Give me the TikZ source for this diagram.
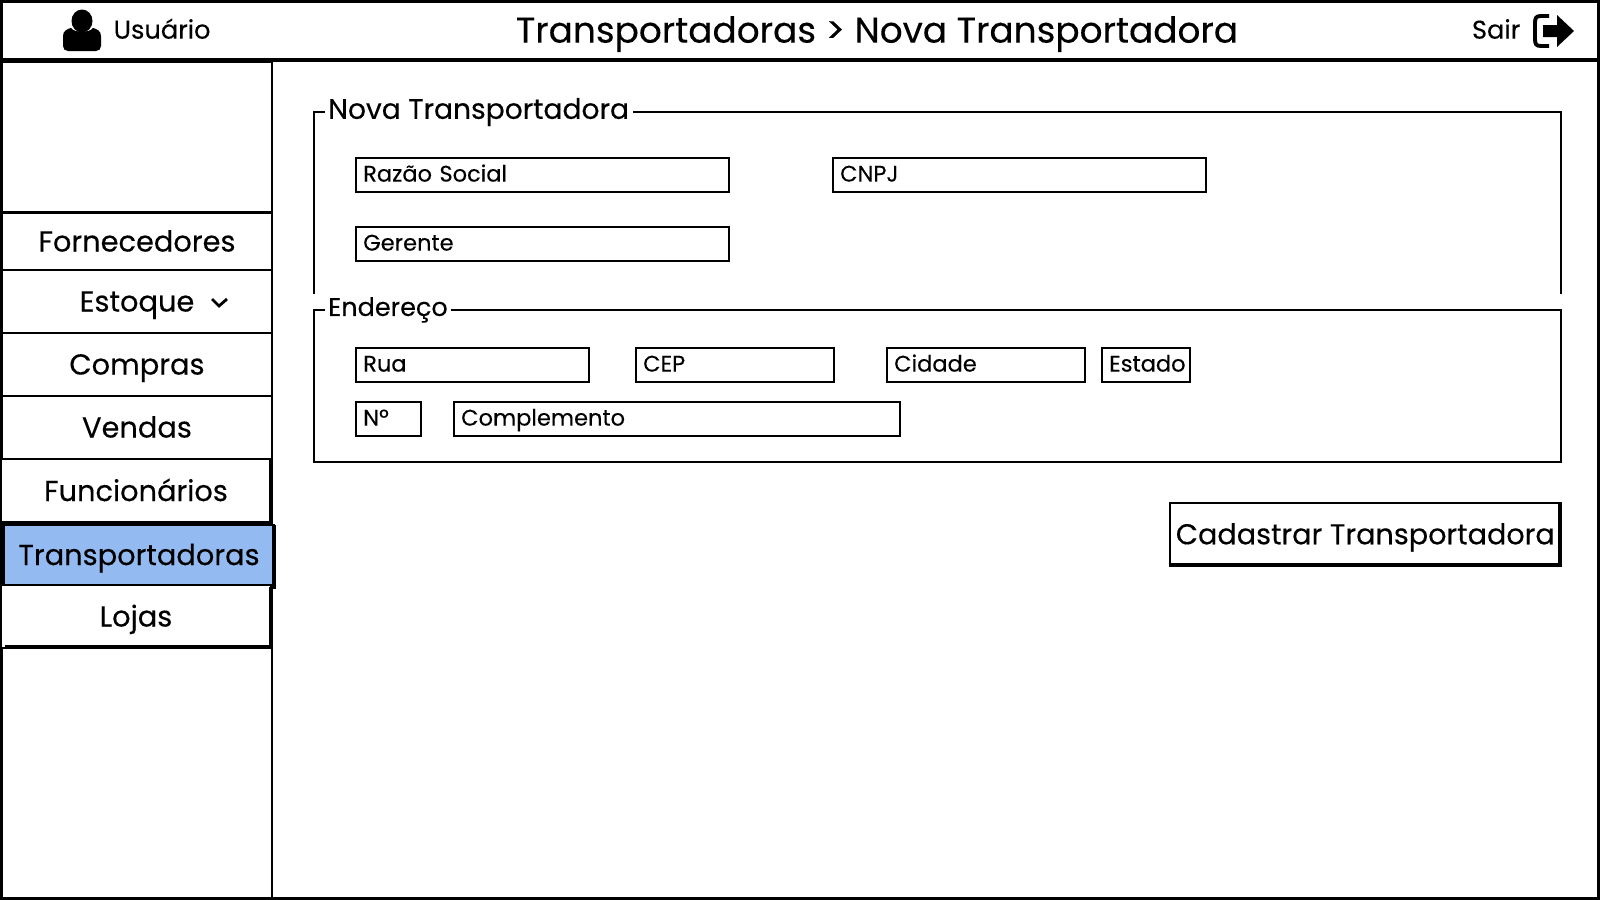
\documentclass[tikz,border=0pt]{standalone}
\usepackage{fontspec}
\setmainfont{Poppins}[FakeBold=0.25]
\usepackage{xcolor}
\usetikzlibrary{arrows.meta}
\definecolor{menublue}{HTML}{93BBF1}
\tikzset{
    wire/.style={draw=black, line width=0.7pt, fill=white},
    menuitem/.style={wire, minimum width=2.7cm, inner sep=0pt, text height=5.7pt, text depth=0pt, font=\fontsize{8.2}{10}\selectfont},
    fieldbox/.style={wire, anchor=north west, align=left, inner sep=0pt, text height=4.5pt, text depth=0.9pt, font=\fontsize{6.4}{8}\selectfont},
    grouptitle/.style={fill=white, inner xsep=1pt, inner ysep=0pt, anchor=west}
}

\begin{document}
\begin{tikzpicture}[x=0.01cm, y=-0.01cm]
    \useasboundingbox (0,0) rectangle (1600,900);

    % --- 1. MACROS ---
    % Eingabefeld: Name, x, y, Breite, Text
    \newcommand{\formfield}[5]{
        \node[fieldbox, minimum width=#4*0.01cm-0.02cm, minimum height=0.34cm, text width=#4*0.01cm-0.16cm] (#1) at (#2,#3) {#5};
    }

    % --- 2. RAHMEN UND KOPFZEILE ---
    \draw[line width=1.1pt] (1,1) rectangle (1599,899);
    \draw[line width=1.1pt] (1,60) -- (1599,60);
    \draw[line width=0.8pt] (2,62) rectangle (272,898);

    \fill (82,21) ellipse (10.5 and 11.5);
    \fill (63,46) -- (63,36) .. controls (63,31) and (67,29) .. (71,28) .. controls (74,33) and (90,33) .. (93,28) .. controls (97,29) and (101,31) .. (101,36) -- (101,46) .. controls (101,49) and (99,51) .. (96,51) -- (68,51) .. controls (65,51) and (63,49) .. (63,46) -- cycle;
    \node[anchor=west, inner sep=0pt, text height=5.5pt, text depth=0pt, font=\fontsize{7.3}{10}\selectfont] (usuario) at (113,29) {Usuário};
    \node[inner sep=0pt, text height=7.2pt, text depth=0pt, font=\fontsize{10.2}{12}\selectfont] (titulo) at (877,30) {Transportadoras > Nova Transportadora};
    \node[anchor=east, inner sep=0pt, text height=5.5pt, text depth=0pt, font=\fontsize{7.3}{10}\selectfont] (sair) at (1521,29) {Sair};

    \draw[line width=1.1pt] (1549,16) -- (1541,16) .. controls (1536,16) and (1535,18) .. (1535,23) -- (1535,39) .. controls (1535,44) and (1536,46) .. (1541,46) -- (1549,46);
    \fill (1543,25) -- (1557,25) -- (1557,15) -- (1574,31) -- (1557,47) -- (1557,37) -- (1543,37) -- cycle;

    % --- 3. MENUE ---
    \node[menuitem, minimum height=0.58cm] (fornecedores) at (137,241.5) {Fornecedores};
    \node[menuitem, minimum height=0.63cm] (estoque) at (137,301.5) {Estoque};
    \draw[line width=0.8pt] (212,299) -- (219,306) -- (227,299);
    \node[menuitem, minimum height=0.63cm] (compras) at (137,364.5) {Compras};
    \node[menuitem, minimum height=0.63cm] (vendas) at (137,427.5) {Vendas};
    \node[menuitem, minimum height=0.64cm] (funcionarios) at (136,491) {Funcionários};
    \node[menuitem, fill=menublue, minimum height=0.6cm, minimum width=2.7cm] (transportadoras) at (139,555) {Transportadoras};
    \node[menuitem, minimum height=0.63cm] (lojas) at (136,616.5) {Lojas};

    % dicke Kanten
    \draw[line width=1.4pt] (271,459) -- (271,523);
    \draw[line width=1.4pt] (2,523) -- (272,523);
    \draw[line width=1.4pt] (274,525) -- (274,589);
    \draw[line width=1.4pt] (271,587) -- (271,647);
    \draw[line width=1.4pt] (5,647) -- (272,647);

    % --- 4. GRUPPE NOVA TRANSPORTADORA ---
    \draw[line width=0.7pt] (314,294) -- (314,112) -- (1561,112) -- (1561,294);
    \node[grouptitle, text height=5.6pt, text depth=0pt, font=\fontsize{8}{10}\selectfont] (novatitulo) at (324,109) {Nova Transportadora};

    \formfield{razao}{355}{157}{375}{Razão Social}
    \formfield{cnpj}{832}{157}{375}{CNPJ}
    \formfield{gerente}{355}{226}{375}{Gerente}

    % --- 5. GRUPPE ENDERECO ---
    \draw[line width=0.7pt] (314,310) rectangle (1561,462);
    \node[grouptitle, text height=5.1pt, text depth=0pt, font=\fontsize{7.25}{9}\selectfont] (endtitulo) at (324,307) {Endereço};

    \formfield{rua}{355}{347}{235}{Rua}
    \formfield{cep}{635}{347}{200}{CEP}
    \formfield{cidade}{886}{347}{200}{Cidade}
    \formfield{estado}{1101}{347}{90}{Estado}
    \formfield{numero}{355}{401}{67}{Nº}
    \formfield{complemento}{453}{401}{448}{Complemento}

    % --- 6. BUTTON ---
    \node[wire, anchor=north west, minimum width=3.9cm, minimum height=0.62cm, inner sep=0pt, text height=5.7pt, text depth=0pt, font=\fontsize{8.15}{11}\selectfont] (cadastrar) at (1169,502) {Cadastrar Transportadora};
    \draw[line width=1.4pt] (1169,565) -- (1560,565) -- (1560,503);

\end{tikzpicture}
\end{document}
